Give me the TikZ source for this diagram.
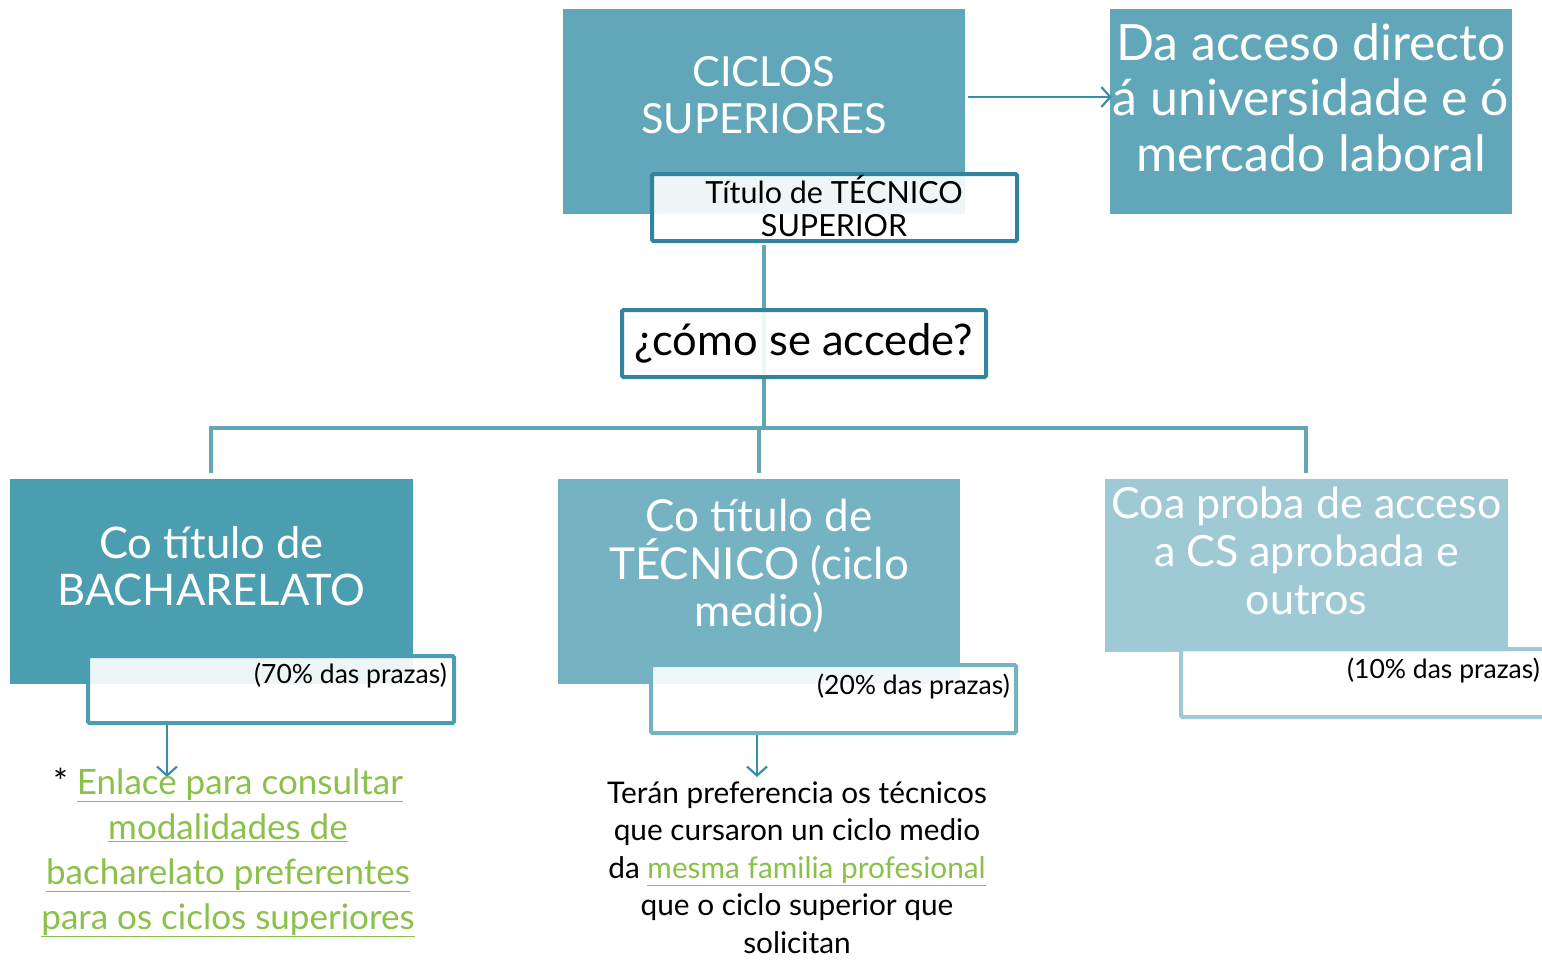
\documentclass[tikz,border=0pt]{standalone}
\usepackage{fontspec}
\setmainfont{Lato}
\usetikzlibrary{arrows.meta}
\definecolor{tealA}{RGB}{98,167,185}
\definecolor{tealB}{RGB}{75,157,176}
\definecolor{tealC}{RGB}{117,178,194}
\definecolor{tealD}{RGB}{158,201,213}
\definecolor{bordDark}{RGB}{49,132,155}
\definecolor{lineC}{RGB}{100,165,182}
\definecolor{arrowC}{RGB}{58,143,168}
\definecolor{linkG}{RGB}{139,192,74}
\newcommand{\lnk}[1]{\textcolor{linkG}{\underline{#1}}}
\begin{document}
\begin{tikzpicture}[x=1pt,y=-1pt,
  bigbox/.style={rectangle, inner sep=0pt, draw=none},
  subbox/.style={rectangle, draw, line width=4pt, fill=white, fill opacity=0.9, text opacity=1, inner sep=0pt, rounded corners=1.5pt},
  whitetxt/.style={text=white, align=center, inner sep=0pt},
  blacktxt/.style={text=black, align=center, inner sep=0pt},
  conn/.style={draw=lineC, line width=4.5pt},
  arr/.style={draw=arrowC, line width=2.2pt, -{Straight Barb[length=9pt,width=20pt,line width=2.2pt]}}
]
\useasboundingbox (0,0) rectangle (1542,959);

\coordinate (hub) at (764,428);

% top boxes
\node[bigbox, fill=tealA, minimum width=402pt, minimum height=205pt] (cs) at (764,111.5) {};
\node[whitetxt, font=\fontsize{41.5}{47}\selectfont] (cstxt) at (764,95.5) {CICLOS\\SUPERIORES};
\node[bigbox, fill=tealA, minimum width=402pt, minimum height=205pt] (rb) at (1311,111.5) {};
\node[whitetxt, font=\fontsize{50}{55.5}\selectfont] (rbtxt) at (1311,97.5) {Da acceso directo\\á universidade e ó\\mercado laboral};

\coordinate (ay) at (0,97);
\draw[arr] (cs.east |- ay) ++(3,0) -- ([xshift=2pt]rb.west |- ay);

% lines
\draw[conn] (hub |- 0,245) -- (hub);
\draw[conn] (211,473) |- (hub) -| (1306,473);
\draw[conn] (759,428) -- (759,473);

\node[subbox, draw=bordDark, minimum width=365pt, minimum height=67pt] (tit) at (834.5,207.5) {};
\node[blacktxt, font=\fontsize{30.5}{33}\selectfont] (tittxt) at (834,206.5) {Título de TÉCNICO\\SUPERIOR};

\node[subbox, draw=bordDark, minimum width=364pt, minimum height=67pt, font=\fontsize{43.5}{44}\selectfont] (como) at (804,343.5) {¿cómo se accede?};

% bottom boxes
\node[bigbox, fill=tealB, minimum width=403pt, minimum height=205pt] (bl) at (211.5,581.5) {};
\node[whitetxt, font=\fontsize{43.5}{47}\selectfont] (bltxt) at (211.5,566.5) {Co título de\\BACHARELATO};
\node[subbox, draw=tealB, minimum width=366pt, minimum height=67pt] (p70) at (271,689.5) {};
\node[blacktxt, anchor=east, font=\fontsize{26.5}{28}\selectfont] (p70txt) at (447,675) {(70\% das prazas)};

\node[bigbox, fill=tealC, minimum width=402pt, minimum height=205pt] (bm) at (759,581.5) {};
\node[whitetxt, font=\fontsize{44}{47.5}\selectfont] (bmtxt) at (759,566.5) {Co título de\\TÉCNICO (ciclo\\medio)};
\node[subbox, draw=tealC, minimum width=365pt, minimum height=68pt] (p20) at (833.5,699) {};
\node[blacktxt, anchor=east, font=\fontsize{26.5}{28}\selectfont] (p20txt) at (1010,686) {(20\% das prazas)};

\node[bigbox, fill=tealD, minimum width=403pt, minimum height=173pt] (br) at (1306.5,565.5) {};
\node[whitetxt, font=\fontsize{43}{48}\selectfont] (brtxt) at (1306.5,551) {Coa proba de acceso\\a CS aprobada e\\outros};
\node[subbox, draw=tealD, minimum width=367pt, minimum height=68pt] (p10) at (1364.5,683) {};
\node[blacktxt, anchor=east, font=\fontsize{26.5}{28}\selectfont] (p10txt) at (1540,670) {(10\% das prazas)};

% arrows down
\coordinate (a1) at (167,777);
\coordinate (a2) at (757,777);
\draw[arr] (a1 |- p70.south) -- (a1);
\draw[arr] (a2 |- p20.south) -- (a2);

\node[blacktxt, font=\fontsize{35}{45}\selectfont] (lnktxt) at (228,852.5) {* \lnk{Enlace para consultar}\\\lnk{modalidades de}\\\lnk{bacharelato preferentes}\\\lnk{para os ciclos superiores}};
\node[blacktxt, font=\fontsize{29.8}{37.5}\selectfont] (midtxt) at (797,867.5) {Terán preferencia os técnicos\\que cursaron un ciclo medio\\da \lnk{mesma familia profesional}\\que o ciclo superior que\\solicitan};
\end{tikzpicture}
\end{document}
